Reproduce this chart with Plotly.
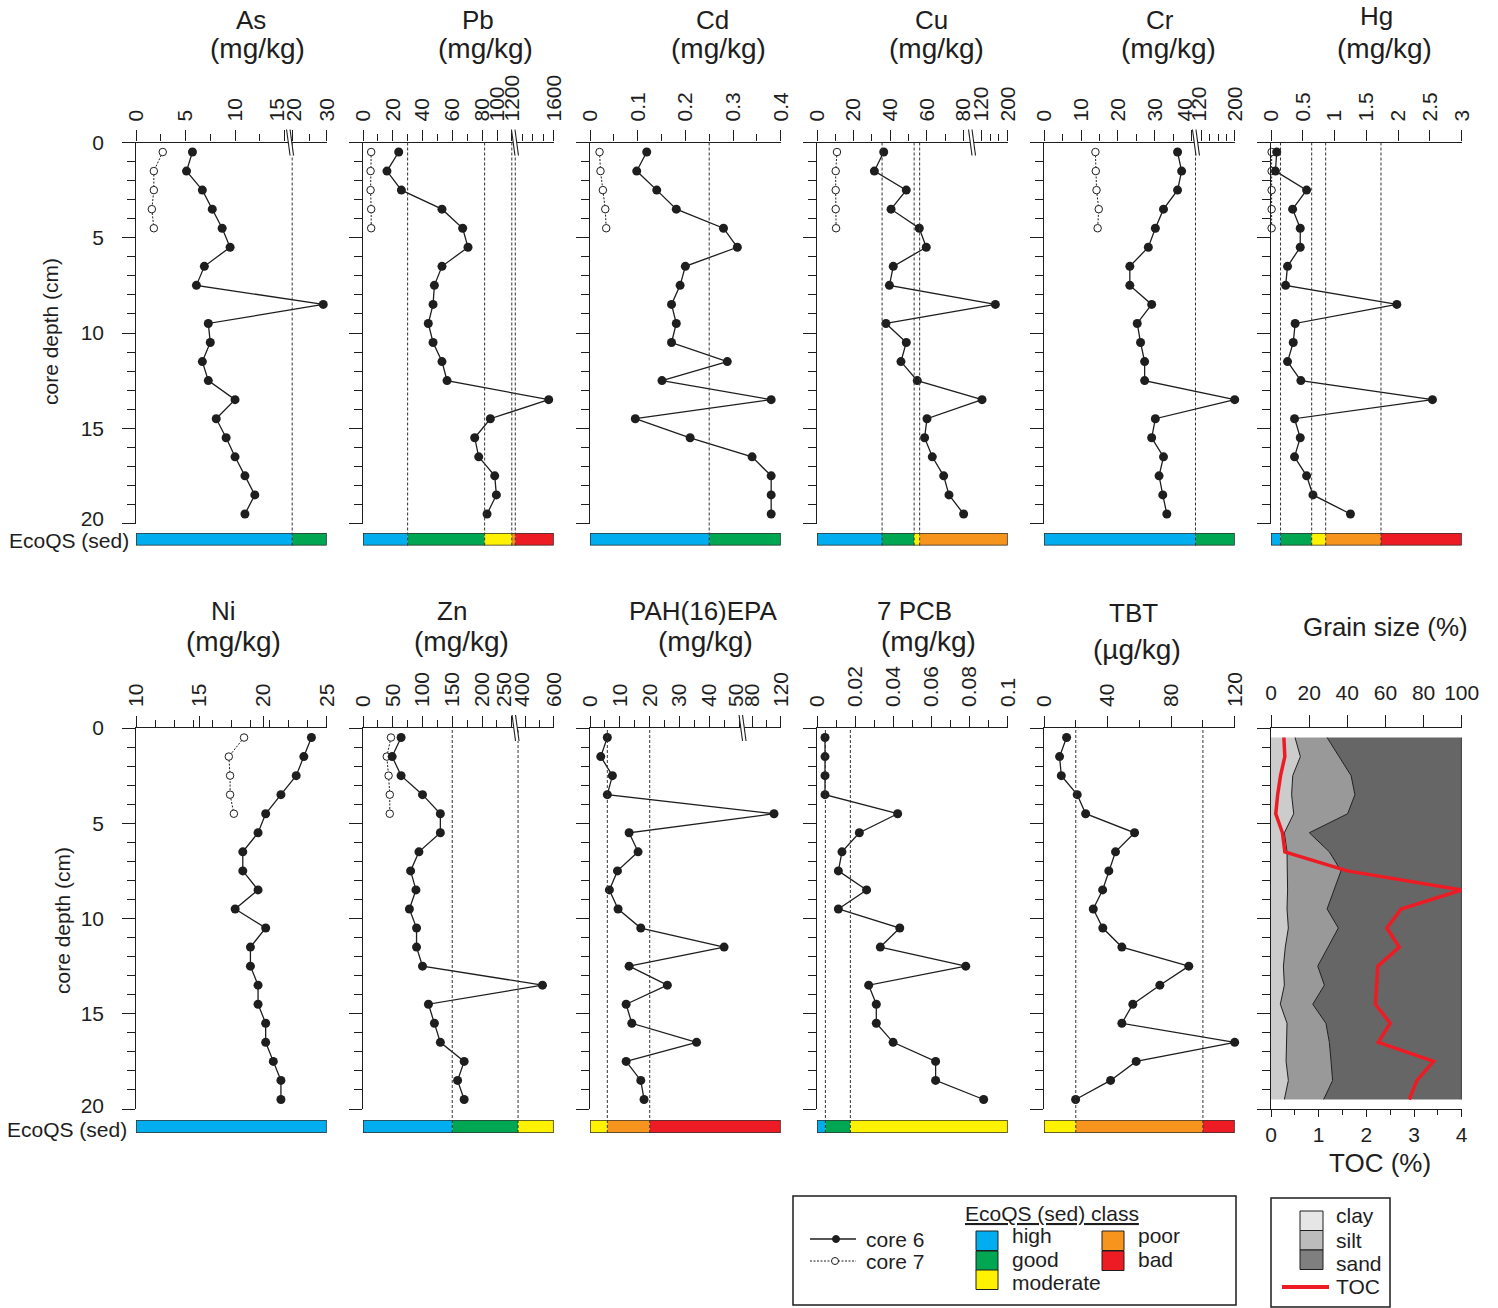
import numpy as np
import plotly.graph_objects as go

W, H = 1498, 1308
FONT = "Liberation Sans, Arial, Helvetica, sans-serif"
INK = "#1e1e1e"

# ------------------------------------------------------------------ data
depth_core6 = [0.5, 1.5, 2.5, 3.5, 4.5, 5.5, 6.5, 7.5, 8.5, 9.5,
               10.5, 11.5, 12.5, 13.5, 14.5, 15.5, 16.5, 17.5, 18.5, 19.5]
depth_core7 = [0.5, 1.5, 2.5, 3.5, 4.5]

as_core6 = [5.7, 5.1, 6.7, 7.7, 8.7, 9.5, 6.9, 6.1, 29.0, 7.3, 7.5, 6.7, 7.3, 10.0, 8.1, 9.1, 10.0, 11.0, 12.0, 11.0]
as_core7 = [2.7, 1.8, 1.8, 1.6, 1.8]
pb_core6 = [24.0, 16.1, 25.8, 53.1, 67.0, 70.6, 53.1, 48.0, 47.1, 43.9, 47.1, 53.1, 56.5, 1552, 91.1, 75.1, 77.8, 96.9, 99.1, 86.7]
pb_core7 = [5.5, 5.1, 5.1, 5.5, 5.5]
cd_core6 = [0.119, 0.098, 0.140, 0.181, 0.280, 0.309, 0.200, 0.189, 0.171, 0.181, 0.171, 0.288, 0.151, 0.380, 0.095, 0.210, 0.340, 0.380, 0.380, 0.380]
cd_core7 = [0.020, 0.022, 0.027, 0.032, 0.034]
cu_core6 = [36.4, 31.3, 48.7, 40.4, 55.8, 59.6, 41.6, 39.5, 162.5, 37.6, 48.7, 45.8, 54.7, 122.0, 60.0, 58.7, 62.9, 69.1, 72.0, 80.0]
cu_core7 = [10.9, 10.2, 10.2, 10.2, 10.4]
cr_core6 = [36.1, 37.2, 36.1, 32.3, 30.1, 28.2, 23.2, 23.2, 29.1, 25.2, 26.1, 27.2, 27.2, 200.0, 30.1, 29.1, 32.3, 31.1, 32.1, 33.2]
cr_core7 = [13.9, 14.0, 14.2, 14.8, 14.5]
hg_core6 = [0.09, 0.07, 0.56, 0.34, 0.46, 0.46, 0.26, 0.23, 1.98, 0.38, 0.35, 0.26, 0.47, 2.54, 0.37, 0.46, 0.37, 0.56, 0.66, 1.25]
hg_core7 = [0.01, 0.01, 0.01, 0.01, 0.01]
ni_core6 = [23.8, 23.2, 22.6, 21.4, 20.2, 19.6, 18.4, 18.4, 19.6, 17.8, 20.2, 19.0, 19.0, 19.6, 19.6, 20.2, 20.2, 20.8, 21.4, 21.4]
ni_core7 = [18.5, 17.3, 17.4, 17.4, 17.7]
zn_core6 = [64, 49, 64, 100, 130, 130, 94, 80, 89, 78, 90, 90, 100, 521, 110, 120, 130, 170, 159, 170]
zn_core7 = [47, 40, 43, 45, 45]
pah_core6 = [5.8, 3.6, 7.5, 5.8, 110.6, 13.1, 16.1, 9.2, 6.5, 9.4, 17.0, 44.9, 13.1, 25.9, 12.1, 14.0, 35.7, 12.1, 17.0, 18.1]
pcb_core6 = [0.0042, 0.0042, 0.0042, 0.0042, 0.0423, 0.0222, 0.0131, 0.0112, 0.0260, 0.0112,
             0.0434, 0.0332, 0.0780, 0.0271, 0.0311, 0.0311, 0.0399, 0.0622, 0.0622, 0.0874]
tbt_core6 = [14.2, 9.8, 10.9, 20.9, 26.2, 57.0, 45.0, 40.8, 36.9, 31.0, 37.0, 49.0, 91.1, 72.9, 55.9, 49.0, 120.0, 58.0, 41.9, 19.9]

clay_pct = [12.6, 15.4, 11.4, 10.8, 11.9, 7.0, 8.4, 8.7, 8.7, 8.4, 9.1, 7.5, 6.5, 7.0, 4.9, 8.4, 8.0, 7.9, 9.1, 7.0]
silt_pct = [16.8, 20.4, 30.6, 33.2, 28.3, 13.1, 22.2, 28.0, 24.5, 21.0, 26.2, 22.2, 18.0, 21.0, 17.0, 20.4, 22.6, 23.6, 23.2, 20.6]
sand_pct = [70.6, 64.2, 58.0, 56.0, 59.8, 79.9, 69.4, 63.3, 66.8, 70.6, 64.7, 70.3, 75.5, 72.0, 78.1, 71.2, 69.4, 68.5, 67.7, 72.4]
toc_pct = [0.27, 0.29, 0.20, 0.14, 0.10, 0.24, 0.29, 1.6, 4.0, 2.73, 2.43, 2.69, 2.24, 2.22, 2.19, 2.50, 2.25, 3.41, 3.06, 2.90]

# EcoQS (sed) class limits per parameter
as_bounds, as_cls = [0, 20, 30], ["high", "good"]
pb_bounds, pb_cls = [0, 30, 83.5, 1190, 1232, 1600], ["high", "good", "moderate", "poor", "bad"]
cd_bounds, cd_cls = [0, 0.25, 0.4], ["high", "good"]
cu_bounds, cu_cls = [0, 35.5, 53, 56, 200], ["high", "good", "moderate", "poor"]
cr_bounds, cr_cls = [0, 70, 200], ["high", "good"]
hg_bounds, hg_cls = [0, 0.15, 0.64, 0.86, 1.73, 3], ["high", "good", "moderate", "poor", "bad"]
ni_bounds, ni_cls = [10, 25], ["high"]
zn_bounds, zn_cls = [0, 150, 320, 600], ["high", "good", "moderate"]
pah_bounds, pah_cls = [0, 5.8, 20, 120], ["moderate", "poor", "bad"]
pcb_bounds, pcb_cls = [0, 0.0044, 0.0175, 0.1], ["high", "good", "moderate"]
tbt_bounds, tbt_cls = [0, 20, 100, 120], ["moderate", "poor", "bad"]

CLASS_COLORS = {"high": "#00AEEF", "good": "#00A651", "moderate": "#FFF200",
                "poor": "#F7941D", "bad": "#ED1C24"}

# ------------------------------------------------------------------ layout geometry (pixels)
ROW_TOP = [142.5, 728.0]
ROW_BOT = [523.5, 1109.0]
STRIP = [(533.0, 545.5), (1120.0, 1133.0)]
PANEL_W = 190.7


def left(col):
    return 136 + 227 * col


def px(p):
    return p / W


def py(p):
    return 1 - p / H


# axis options (break points map values to fraction of axis width)
panels = [
    dict(title="As", unit="(mg/kg)", c6=as_core6, c7=as_core7, row=0, col=0,
         bp=[(0, 0), (15, 0.779), (20, 0.819), (30, 1)],
         labels=[0, 5, 10, 15, 20, 30], text=["0", "5", "10", "15", "20", "30"],
         labpos={15: 0.74, 20: 0.828}, minor=[2.5, 7.5, 12.5, 25], brk=0.80,
         bounds=as_bounds, cls=as_cls, tpos=[(251, 20), (257, 49)]),
    dict(title="Pb", unit="(mg/kg)", c6=pb_core6, c7=pb_core7, row=0, col=1,
         bp=[(0, 0), (80, 0.624), (100, 0.703), (1200, 0.781), (1600, 1)],
         labels=[0, 20, 40, 60, 80, 100, 1200, 1600],
         text=["0", "20", "40", "60", "80", "100", "1200", "1600"],
         labpos={}, minor=[10, 30, 50, 70, 1300, 1400, 1500], brk=0.789,
         bounds=pb_bounds, cls=pb_cls, tpos=[(478, 20), (485, 49)]),
    dict(title="Cd", unit="(mg/kg)", c6=cd_core6, c7=cd_core7, row=0, col=2,
         bp=[(0, 0), (0.4, 1)], labels=[0, 0.1, 0.2, 0.3, 0.4],
         text=["0", "0.1", "0.2", "0.3", "0.4"], labpos={},
         minor=[0.05, 0.15, 0.25, 0.35], brk=None,
         bounds=cd_bounds, cls=cd_cls, tpos=[(712, 20), (718, 49)]),
    dict(title="Cu", unit="(mg/kg)", c6=cu_core6, c7=cu_core7, row=0, col=3,
         bp=[(0, 0), (80, 0.769), (120, 0.862), (200, 1)],
         labels=[0, 20, 40, 60, 80, 120, 200], text=["0", "20", "40", "60", "80", "120", "200"],
         labpos={}, minor=[10, 30, 50, 70, 147, 173], brk=0.805,
         bounds=cu_bounds, cls=cu_cls, tpos=[(931, 20), (937, 49)]),
    dict(title="Cr", unit="(mg/kg)", c6=cr_core6, c7=cr_core7, row=0, col=4,
         bp=[(0, 0), (40, 0.776), (120, 0.825), (200, 1)],
         labels=[0, 10, 20, 30, 40, 120, 200], text=["0", "10", "20", "30", "40", "120", "200"],
         labpos={40: 0.741, 120: 0.815}, minor=[5, 15, 25, 35, 140, 160, 180], brk=0.789,
         bounds=cr_bounds, cls=cr_cls, tpos=[(1160, 20), (1168, 49)]),
    dict(title="Hg", unit="(mg/kg)", c6=hg_core6, c7=hg_core7, row=0, col=5,
         bp=[(0, 0), (3, 1)], labels=[0, 0.5, 1, 1.5, 2, 2.5, 3],
         text=["0", "0.5", "1", "1.5", "2", "2.5", "3"], labpos={}, minor=[], brk=None,
         bounds=hg_bounds, cls=hg_cls, tpos=[(1376, 16), (1384, 49)]),
    dict(title="Ni", unit="(mg/kg)", c6=ni_core6, c7=ni_core7, row=1, col=0,
         bp=[(10, 0), (25, 1)], labels=[10, 15, 20, 25], text=["10", "15", "20", "25"],
         labpos={}, minor=[11.5, 13, 14.5, 16, 17.5, 19, 20.5, 22, 23.5], brk=None,
         bounds=ni_bounds, cls=ni_cls, tpos=[(223, 611), (233, 641)]),
    dict(title="Zn", unit="(mg/kg)", c6=zn_core6, c7=zn_core7, row=1, col=1,
         bp=[(0, 0), (250, 0.78), (400, 0.851), (600, 1)],
         labels=[0, 50, 100, 150, 200, 250, 400, 600],
         text=["0", "50", "100", "150", "200", "250", "400", "600"],
         labpos={250: 0.738, 400: 0.834}, minor=[25, 75, 125, 175, 225, 500], brk=0.792,
         bounds=zn_bounds, cls=zn_cls, tpos=[(452, 611), (461, 641)]),
    dict(title="PAH(16)EPA", unit="(mg/kg)", c6=pah_core6, c7=None, row=1, col=2,
         bp=[(0, 0), (50, 0.783), (80, 0.851), (120, 1)],
         labels=[0, 10, 20, 30, 40, 50, 80, 120],
         text=["0", "10", "20", "30", "40", "50", "80", "120"],
         labpos={50: 0.769}, minor=[5, 15, 25, 35, 45, 100], brk=0.792,
         bounds=pah_bounds, cls=pah_cls, tpos=[(703, 611), (705, 641)]),
    dict(title="7 PCB", unit="(mg/kg)", c6=pcb_core6, c7=None, row=1, col=3,
         bp=[(0, 0), (0.1, 1)], labels=[0, 0.02, 0.04, 0.06, 0.08, 0.1],
         text=["0", "0.02", "0.04", "0.06", "0.08", "0.1"], labpos={},
         minor=[0.01, 0.03, 0.05, 0.07, 0.09], brk=None,
         bounds=pcb_bounds, cls=pcb_cls, tpos=[(914, 611), (928, 641)]),
    dict(title="TBT", unit="(\u00b5g/kg)", c6=tbt_core6, c7=None, row=1, col=4,
         bp=[(0, 0), (120, 1)], labels=[0, 40, 80, 120], text=["0", "40", "80", "120"],
         labpos={}, minor=[20, 60, 100], brk=None,
         bounds=tbt_bounds, cls=tbt_cls, tpos=[(1133, 613), (1137, 649)]),
]


def scale(bp):
    vs = [b[0] for b in bp]
    fs = [b[1] for b in bp]
    return lambda v: np.interp(np.asarray(v, dtype=float), vs, fs)


fig = go.Figure()
layout = dict(template="none", width=W, height=H, autosize=False,
              margin=dict(l=0, r=0, t=0, b=0, pad=0, autoexpand=False),
              paper_bgcolor="white", plot_bgcolor="rgba(0,0,0,0)",
              showlegend=False, barmode="overlay",
              font=dict(family=FONT, color=INK, size=20))
shapes, annotations = [], []

depth_major = [0, 5, 10, 15, 20]
depth_minor = [1, 2, 3, 4, 6, 7, 8, 9, 11, 12, 13, 14, 16, 17, 18, 19]
depth_label_pos = [{20: 19.72}, {20: 19.8}]


def depth_axis(k, row):
    return dict(domain=[py(ROW_BOT[row]), py(ROW_TOP[row])], range=[20, 0],
                anchor=f"x{k}", showline=True, linecolor=INK, linewidth=1.3,
                ticks="outside", ticklen=13, tickwidth=1.2, tickcolor=INK,
                tickvals=depth_major, showticklabels=False, automargin=False,
                minor=dict(tickvals=depth_minor, ticks="outside", ticklen=8,
                           tickwidth=1.2, tickcolor=INK, showgrid=False),
                showgrid=False, zeroline=False, fixedrange=True)


def ann(text, x, y, size=21, xa="center", ya="middle", angle=0):
    return dict(text=text, x=px(x), y=py(y), xref="paper", yref="paper", showarrow=False,
                xanchor=xa, yanchor=ya, textangle=angle, font=dict(size=size))


ylab_index = 24
for i, p in enumerate(panels):
    k = i + 1
    row, col = p["row"], p["col"]
    f = scale(p["bp"])
    L = left(col)
    xdom = [px(L), px(L + PANEL_W)]
    # main x-axis: ticks only
    layout[f"xaxis{k}"] = dict(domain=xdom, range=[0, 1], side="top", anchor=f"y{k}",
                               showline=True, linecolor=INK, linewidth=1.3,
                               ticks="outside", ticklen=11, tickwidth=1.2, tickcolor=INK,
                               tickvals=list(f(p["labels"])), showticklabels=False,
                               automargin=False,
                               minor=dict(tickvals=list(f(p["minor"])) if p["minor"] else [],
                                          ticks="outside" if p["minor"] else "",
                                          ticklen=7, tickwidth=1.2, tickcolor=INK, showgrid=False),
                               showgrid=False, zeroline=False, fixedrange=True)
    # label axis (tick labels, some nudged off the crowded break region)
    lab_f = [p["labpos"].get(v, float(f(v))) for v in p["labels"]]
    layout[f"xaxis{12 + k}"] = dict(domain=xdom, range=[0, 1], side="top", anchor=f"y{k}",
                                    overlaying=f"x{k}", showline=False, ticks="",
                                    tickvals=lab_f, ticktext=p["text"], tickangle=-90,
                                    tickfont=dict(size=21), ticklabelstandoff=20,
                                    automargin=False,
                                    showgrid=False, zeroline=False, fixedrange=True)
    layout[f"yaxis{k}"] = depth_axis(k, row)
    layout[f"yaxis{12 + k}"] = dict(domain=[py(STRIP[row][1]), py(STRIP[row][0])],
                                    range=[0, 1], anchor=f"x{k}", visible=False,
                                    automargin=False, fixedrange=True)
    fig.add_trace(go.Scatter(x=[0.5], y=[10], mode="markers", marker=dict(opacity=0),
                             xaxis=f"x{12 + k}", yaxis=f"y{k}", hoverinfo="skip"))
    if col == 0:
        yl = f"yaxis{ylab_index}"
        lp = depth_label_pos[row]
        layout[yl] = dict(domain=[py(ROW_BOT[row]), py(ROW_TOP[row])], range=[20, 0],
                          anchor=f"x{k}", overlaying=f"y{k}", side="left", showline=False,
                          ticks="", tickvals=[lp.get(v, v) for v in depth_major],
                          ticktext=[str(v) for v in depth_major], tickfont=dict(size=21),
                          ticklabelstandoff=31, automargin=False,
                          showgrid=False, zeroline=False, fixedrange=True)
        fig.add_trace(go.Scatter(x=[0.5], y=[10], mode="markers", marker=dict(opacity=0),
                                 xaxis=f"x{k}", yaxis=f"y{ylab_index}", hoverinfo="skip"))
        ylab_index += 1
    # EcoQS strip
    b = np.asarray(p["bounds"], dtype=float)
    fb = f(b)
    fig.add_trace(go.Bar(x=list(fb[1:] - fb[:-1]), base=list(fb[:-1]),
                         y=[0.5] * len(p["cls"]), width=[1.0] * len(p["cls"]),
                         orientation="h",
                         marker=dict(color=[CLASS_COLORS[c] for c in p["cls"]], line=dict(width=0)),
                         xaxis=f"x{k}", yaxis=f"y{12 + k}", hoverinfo="skip"))
    shapes.append(dict(type="rect", xref=f"x{k}", yref=f"y{12 + k}", x0=0, x1=1, y0=0, y1=1,
                       line=dict(color="#333", width=1.5), layer="above"))
    # threshold lines
    for t in p["bounds"][1:-1]:
        xt = float(f(t))
        shapes.append(dict(type="line", xref=f"x{k}", yref="paper", x0=xt, x1=xt,
                           y0=py(STRIP[row][1]), y1=py(ROW_TOP[row]),
                           line=dict(color="#333", width=1, dash="3px,2px"), layer="above"))
    # data
    if p["c7"] is not None:
        fig.add_trace(go.Scatter(x=list(f(p["c7"])), y=depth_core7, mode="lines+markers",
                                 line=dict(color=INK, width=1, dash="2px,1.5px"),
                                 marker=dict(size=7.5, color="white", line=dict(color=INK, width=1)),
                                 xaxis=f"x{k}", yaxis=f"y{k}", cliponaxis=False))
    fig.add_trace(go.Scatter(x=list(f(p["c6"])), y=depth_core6, mode="lines+markers",
                             line=dict(color=INK, width=1.3),
                             marker=dict(size=9, color=INK),
                             xaxis=f"x{k}", yaxis=f"y{k}", cliponaxis=False))
    # axis break symbol
    if p["brk"] is not None:
        xb = L + p["brk"] * PANEL_W
        ya = ROW_TOP[row]
        t_, b_ = ya - 13, ya + 13
        g = 3.5
        path = (f"M {px(xb - 2)} {py(t_)} L {px(xb - 2 + g)} {py(t_)} "
                f"L {px(xb + 1.5 + g)} {py(b_)} L {px(xb + 1.5)} {py(b_)} Z")
        shapes.append(dict(type="path", xref="paper", yref="paper", path=path,
                           fillcolor="white", line=dict(width=0), layer="above"))
        for dx in (0, g):
            shapes.append(dict(type="line", xref="paper", yref="paper",
                               x0=px(xb - 2 + dx), y0=py(t_), x1=px(xb + 1.5 + dx), y1=py(b_),
                               line=dict(color=INK, width=1.1), layer="above"))
    # titles
    (tx1, ty1), (tx2, ty2) = p["tpos"]
    annotations.append(ann(p["title"], tx1, ty1, size=26))
    annotations.append(ann(p["unit"], tx2, ty2, size=28))

# ------------------------------------------------------------------ grain size panel
L = left(5)
xdom = [px(L), px(L + PANEL_W)]
layout["xaxis12"] = dict(domain=xdom, range=[0, 100], side="top", anchor="y12",
                         showline=True, linecolor=INK, linewidth=1.3,
                         ticks="outside", ticklen=12, tickwidth=1.2, tickcolor=INK,
                         tickvals=[0, 20, 40, 60, 80, 100], tickangle=0,
                         tickfont=dict(size=21), ticklabelstandoff=6, automargin=False,
                         showgrid=False, zeroline=False, fixedrange=True)
layout["xaxis24"] = dict(domain=xdom, range=[0, 4], side="bottom", anchor="y12",
                         overlaying="x12", showline=True, linecolor=INK, linewidth=1.3,
                         ticks="outside", ticklen=7, tickwidth=1.2, tickcolor=INK,
                         tickvals=[0, 1, 2, 3, 4], tickfont=dict(size=21), automargin=False,
                         minor=dict(tickvals=[0.5, 1.5, 2.5, 3.5], ticks="outside", ticklen=5,
                                    tickwidth=1.2, tickcolor=INK, showgrid=False),
                         showgrid=False, zeroline=False, fixedrange=True)
layout["yaxis12"] = depth_axis(12, 1)

clay_edge = list(np.asarray(clay_pct))
silt_edge = list(np.asarray(clay_pct) + np.asarray(silt_pct))
sand_edge = list(np.asarray(clay_pct) + np.asarray(silt_pct) + np.asarray(sand_pct))
fig.add_trace(go.Scatter(x=clay_edge, y=depth_core6, mode="lines", fill="tozerox",
                         fillcolor="#cccccc", line=dict(color=INK, width=1),
                         xaxis="x12", yaxis="y12"))
fig.add_trace(go.Scatter(x=silt_edge, y=depth_core6, mode="lines", fill="tonextx",
                         fillcolor="#999999", line=dict(color=INK, width=1),
                         xaxis="x12", yaxis="y12"))
fig.add_trace(go.Scatter(x=sand_edge, y=depth_core6, mode="lines", fill="tonextx",
                         fillcolor="#666666", line=dict(color=INK, width=1.5),
                         xaxis="x12", yaxis="y12"))
fig.add_trace(go.Scatter(x=toc_pct, y=depth_core6, mode="lines",
                         line=dict(color="#ED1C24", width=3.5),
                         xaxis="x24", yaxis="y12", cliponaxis=False))
annotations.append(ann("Grain size (%)", 1385, 627, size=26))
annotations.append(ann("TOC (%)", 1380, 1163, size=26))

# ------------------------------------------------------------------ row labels
annotations.append(ann("core depth (cm)", 50, 332, angle=-90))
annotations.append(ann("core depth (cm)", 62, 920, angle=-90))
annotations.append(ann("EcoQS (sed)", 69, 540))
annotations.append(ann("EcoQS (sed)", 67, 1129))

# ------------------------------------------------------------------ legends


def prect(x0, y0, x1, y1, fill, lw=1, lc=INK):
    return dict(type="rect", xref="paper", yref="paper", x0=px(x0), x1=px(x1),
                y0=py(y1), y1=py(y0), fillcolor=fill, line=dict(color=lc, width=lw))


shapes.append(prect(793, 1196, 1236, 1305, "white", 1.5))
shapes.append(dict(type="line", xref="paper", yref="paper", x0=px(810), x1=px(856),
                   y0=py(1239), y1=py(1239), line=dict(color=INK, width=1.3)))
shapes.append(dict(type="circle", xref="paper", yref="paper", x0=px(832.5), x1=px(839.5),
                   y0=py(1242.5), y1=py(1235.5), fillcolor=INK, line=dict(color=INK, width=1)))
shapes.append(dict(type="line", xref="paper", yref="paper", x0=px(810), x1=px(856),
                   y0=py(1261), y1=py(1261), line=dict(color=INK, width=1, dash="2px,1.5px")))
shapes.append(dict(type="circle", xref="paper", yref="paper", x0=px(831.5), x1=px(838.5),
                   y0=py(1264.5), y1=py(1257.5), fillcolor="white", line=dict(color=INK, width=1)))
annotations.append(ann("core 6", 864, 1239, xa="left"))
annotations.append(ann("core 7", 864, 1261, xa="left"))
annotations.append(ann("<u>EcoQS (sed) class</u>", 1052, 1213))
swatches = [("high", 976, 1231, 1010, 1235), ("good", 976, 1251, 1010, 1259),
            ("moderate", 976, 1270, 1010, 1282), ("poor", 1102, 1231, 1136, 1235),
            ("bad", 1102, 1251, 1136, 1259)]
for name, sx, sy, tx, ty in swatches:
    shapes.append(prect(sx, sy, sx + 22, sy + 19.5, CLASS_COLORS[name], 1))
    annotations.append(ann(name, tx, ty, xa="left"))

shapes.append(prect(1271, 1198, 1390, 1307, "white", 1.5))
for name, col_, sy, ty in [("clay", "#e6e6e6", 1211, 1215), ("silt", "#bcbcbc", 1230.5, 1240),
                           ("sand", "#7f7f7f", 1250, 1263)]:
    shapes.append(prect(1300, sy, 1323, sy + 19.5, col_, 1))
    annotations.append(ann(name, 1334, ty, xa="left"))
shapes.append(dict(type="line", xref="paper", yref="paper", x0=px(1282), x1=px(1329),
                   y0=py(1287), y1=py(1287), line=dict(color="#ED1C24", width=4)))
annotations.append(ann("TOC", 1334, 1286, xa="left"))

layout["shapes"] = shapes
layout["annotations"] = annotations
fig.update_layout(**layout)
fig.update_traces(hoverinfo="skip")
fig.write_html("out.html")
